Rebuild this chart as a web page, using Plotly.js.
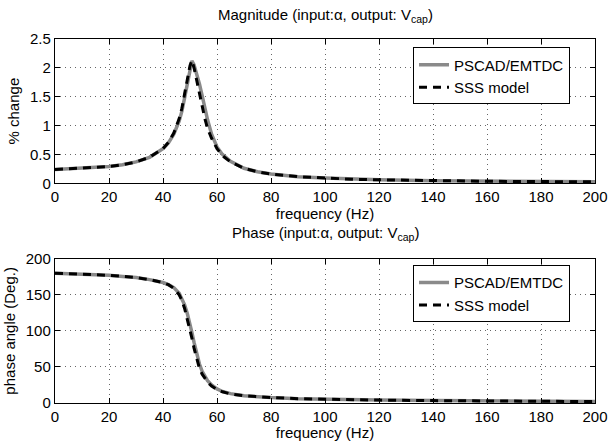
<!DOCTYPE html>
<html>
<head>
<meta charset="utf-8">
<script src="https://cdn.plot.ly/plotly-3.0.1.min.js"></script>
<style>html,body{margin:0;padding:0;background:#fff;}#chart{width:609px;height:441px;}</style>
</head>
<body>
<div id="chart"></div>
<script>
// Frequency sample points (Hz)
const freq = [0, 5, 10, 15, 20, 25, 30, 35, 40, 42, 44, 46, 47, 48, 49, 50, 50.7, 51.5, 52.5, 53.5, 54.5, 55.5, 56.5, 58, 60, 62, 65, 70, 75, 80, 90, 100, 110, 120, 140, 160, 180, 200];

// Magnitude (% change)
const magPSCAD = [0.24, 0.25, 0.26, 0.27, 0.29, 0.32, 0.37, 0.45, 0.60, 0.70, 0.85, 1.08, 1.25, 1.48, 1.72, 1.98, 2.12, 2.05, 1.90, 1.72, 1.52, 1.30, 1.10, 0.85, 0.63, 0.50, 0.38, 0.26, 0.20, 0.16, 0.115, 0.09, 0.07, 0.06, 0.045, 0.035, 0.03, 0.025];
const magSSS   = [0.24, 0.25, 0.26, 0.27, 0.29, 0.32, 0.37, 0.45, 0.60, 0.71, 0.87, 1.12, 1.30, 1.55, 1.80, 2.04, 2.13, 2.00, 1.78, 1.55, 1.32, 1.12, 0.95, 0.78, 0.60, 0.48, 0.37, 0.26, 0.20, 0.16, 0.115, 0.09, 0.07, 0.06, 0.045, 0.035, 0.03, 0.025];

// Phase angle (Deg.)
const phPSCAD = [180, 179.5, 179, 178, 177, 175.5, 174, 171, 167, 164, 160, 152, 145, 136, 124, 110, 98, 84, 68, 54, 44, 37, 31, 25, 19.5, 16, 13, 10, 8.5, 7.5, 6, 5, 4.5, 4, 3.3, 2.8, 2.4, 2];
const phSSS   = [180, 179.5, 179, 178, 177, 175.5, 174, 171, 167, 164, 159, 150, 142, 131, 117, 102, 90, 76, 61, 48, 40, 34, 29, 23.5, 18.5, 15.5, 12.5, 10, 8.5, 7.5, 6, 5, 4.5, 4, 3.3, 2.8, 2.4, 2];

const seriesNames = ['PSCAD/EMTDC', 'SSS model'];
const xTicks = [0, 20, 40, 60, 80, 100, 120, 140, 160, 180, 200];
const magTicks = [0, 0.5, 1, 1.5, 2, 2.5];
const phTicks = [0, 50, 100, 150, 200];

const FONT = 'Liberation Sans, Arial, Helvetica, sans-serif';
const grayLine = {color: '#8a8a8a', width: 3.5};
const dashLine = {color: '#000000', width: 3, dash: '8px,6px'};

const traces = [
  {x: freq, y: magPSCAD, name: seriesNames[0], type: 'scatter', mode: 'lines', line: grayLine, xaxis: 'x', yaxis: 'y', legend: 'legend'},
  {x: freq, y: magSSS, name: seriesNames[1], type: 'scatter', mode: 'lines', line: dashLine, xaxis: 'x', yaxis: 'y', legend: 'legend'},
  {x: freq, y: phPSCAD, name: seriesNames[0], type: 'scatter', mode: 'lines', line: grayLine, xaxis: 'x2', yaxis: 'y2', legend: 'legend2'},
  {x: freq, y: phSSS, name: seriesNames[1], type: 'scatter', mode: 'lines', line: dashLine, xaxis: 'x2', yaxis: 'y2', legend: 'legend2'}
];

function axisBase() {
  return {
    showline: true, linecolor: '#000', linewidth: 1.2, mirror: 'ticks',
    ticks: 'inside', ticklen: 5, tickcolor: '#000', tickwidth: 1,
    showgrid: true, gridcolor: '#666', griddash: '1px,4px', gridwidth: 1,
    zeroline: false, automargin: false,
    tickfont: {family: FONT, size: 15, color: '#000'}
  };
}

const xa = Object.assign(axisBase(), {
  range: [0, 200], tickmode: 'array', tickvals: xTicks, ticktext: xTicks.map(String),
  anchor: 'y', domain: [0, 1],
  title: {text: 'frequency (Hz)', font: {family: FONT, size: 15, color: '#000'}, standoff: 0}
});
const xa2 = Object.assign(axisBase(), {
  range: [0, 200], tickmode: 'array', tickvals: xTicks, ticktext: xTicks.map(String),
  anchor: 'y2', domain: [0, 1],
  title: {text: 'frequency (Hz)', font: {family: FONT, size: 15, color: '#000'}, standoff: 0}
});
const ya = Object.assign(axisBase(), {
  range: [0, 2.5], tickmode: 'array', tickvals: magTicks, ticktext: magTicks.map(String),
  anchor: 'x', domain: [0.6036, 1],
  title: {text: '% change', font: {family: FONT, size: 15, color: '#000'}, standoff: 6}
});
const ya2 = Object.assign(axisBase(), {
  range: [0, 200], tickmode: 'array', tickvals: phTicks, ticktext: phTicks.map(String),
  anchor: 'x2', domain: [0, 0.3964],
  title: {text: 'phase angle (Deg.)', font: {family: FONT, size: 15, color: '#000'}, standoff: 6}
});

const legendBase = {
  bgcolor: '#fff', bordercolor: '#000', borderwidth: 1,
  font: {family: FONT, size: 15, color: '#000'},
  xanchor: 'left', yanchor: 'top', tracegroupgap: 0
};

const layout = {
  width: 609, height: 441,
  margin: {l: 55, r: 14, t: 38.5, b: 38},
  paper_bgcolor: '#fff', plot_bgcolor: '#fff',
  font: {family: FONT, size: 15, color: '#000'},
  showlegend: true,
  xaxis: xa, yaxis: ya, xaxis2: xa2, yaxis2: ya2,
  legend: Object.assign({x: 0.663, y: 0.9767}, legendBase),
  legend2: Object.assign({x: 0.663, y: 0.3786}, legendBase),
  annotations: [
    {text: 'Magnitude (input:α, output: V<sub>cap</sub>)', xref: 'paper', yref: 'paper', x: 0.5, y: 1.0645,
     xanchor: 'center', yanchor: 'middle', showarrow: false, font: {family: FONT, size: 15, color: '#000'}},
    {text: 'Phase (input:α, output: V<sub>cap</sub>)', xref: 'paper', yref: 'paper', x: 0.5, y: 0.4664,
     xanchor: 'center', yanchor: 'middle', showarrow: false, font: {family: FONT, size: 15, color: '#000'}}
  ]
};

Plotly.newPlot('chart', traces, layout, {displayModeBar: false, staticPlot: true});
</script>
</body>
</html>
